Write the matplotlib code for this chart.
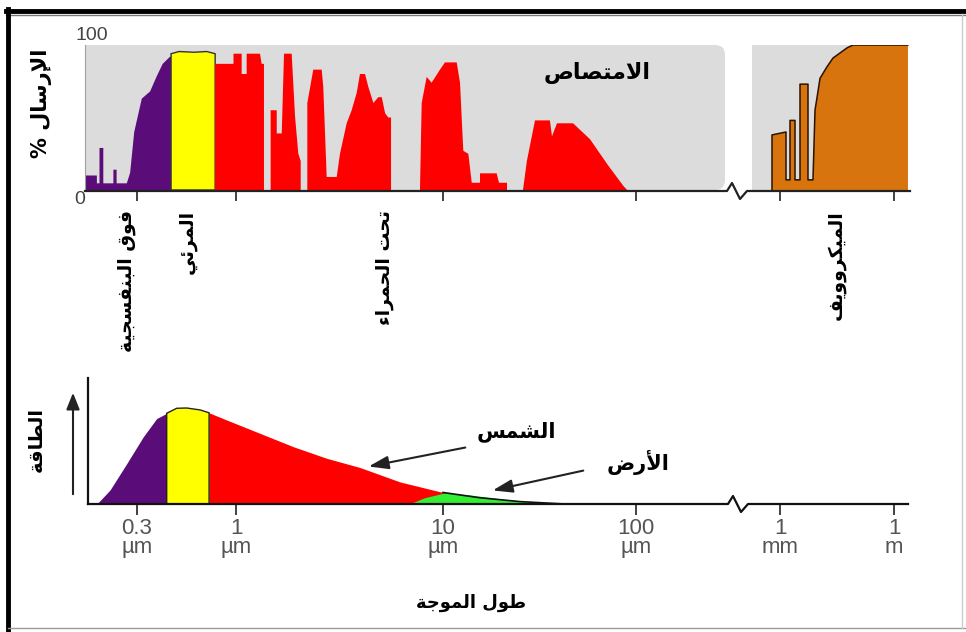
import numpy as np
import matplotlib
matplotlib.use('Agg')
import matplotlib.pyplot as plt
from matplotlib.patches import Rectangle, FancyBboxPatch
from matplotlib.lines import Line2D

# ---------------- data ----------------
# top panel: atmospheric transmission (%) vs wavelength (micrometres)
uv_wl = [0.159, 0.159, 0.184, 0.184, 0.190, 0.190, 0.199, 0.199, 0.225, 0.225, 0.234, 0.234,
         0.265, 0.276, 0.29, 0.318, 0.352, 0.38, 0.41, 0.449, 0.454, 0.454]
uv_T = [0, 10, 10, 4.6, 4.6, 29, 29, 4.6, 4.6, 14, 14, 4.6,
        4.6, 12, 40, 63, 68, 78, 87, 92, 92, 0]

vis_wl = [0.454, 0.454, 0.5, 0.6, 0.7, 0.776, 0.776]
vis_T = [0, 94, 95.5, 95, 95.5, 94, 0]

ir_wl = [0.776, 0.776, 0.97, 0.97, 1.065, 1.065, 1.126, 1.126, 1.306, 1.33, 1.365, 1.365,
         1.47, 1.47, 1.573, 1.573, 1.663, 1.706, 1.858, 1.928, 2.0, 2.054, 2.054,
         2.211, 2.211, 2.362, 2.594, 2.64, 2.742, 3.066, 3.179, 3.425, 3.62, 3.83, 3.97, 4.2,
         4.36, 4.61, 4.87, 5.06, 5.25, 5.44, 5.61, 5.61,
         7.74, 7.89, 8.34, 8.81, 9.67, 10.24, 11.78, 12.25, 12.74, 13.53, 14.09, 15.55, 15.55,
         18.97, 19.5, 21.46, 21.46,
         25.97, 27.2, 29.97, 35.8, 36.7, 38.96, 47.2, 57.8, 70.8, 85.8, 90.0]
ir_T = [0, 87, 87, 94, 94, 80, 80, 94, 94, 87, 87, 0,
        0, 55, 55, 39, 39, 94, 94, 51, 25, 20, 0,
        0, 60, 83, 83, 71, 9, 9, 25, 46, 55, 67, 80, 80,
        71, 60, 64, 64, 53, 50, 50, 0,
        0, 60, 78, 74, 83, 88, 88, 74, 27, 25, 5, 5, 11.5,
        11.5, 5, 5, 0,
        0, 20, 48, 48, 37, 46, 46, 35, 18, 3, 0]

mw_wl = [880, 880, 1439, 1439, 1833, 1833, 2483, 2483, 3360, 3360, 5455, 5455, 7380,
         8340, 10000, 11290, 17260, 24820, 57940, 83350, 2.33e6, 2.33e6]
mw_T = [0, 38, 40, 7, 7, 48, 48, 7, 7, 73, 73, 7, 7,
        55, 68, 77, 85, 91, 98, 100, 100, 0]

# bottom panel: relative emitted energy vs wavelength (micrometres)
sun_wl = np.array([0.184, 0.216, 0.2646, 0.3237, 0.381, 0.4305, 0.486, 0.5486, 0.646, 0.721,
                   0.893, 1.306, 1.891, 2.742, 3.972, 6.196, 10.0, 15.55, 25.06, 42.84])
sun_E = np.array([0, 14.6, 42, 70, 89, 94.5, 99.7, 100, 98, 95,
                  87.5, 73.6, 59.7, 47.6, 38, 23, 12, 6.5, 2.5, 0])
earth_wl = [7.0, 8.19, 10.24, 13.8, 19.7, 29.6, 33.7]
earth_E = [0, 6, 11, 9, 5, 1, 0]

tick_wl = [0.3, 1, 10, 100, 1000, 1e6]
tick_labels = ['0.3\nµm', '1\nµm', '10\nµm', '100\nµm', '1\nmm', '1\nm']

band_uv_end = 0.4305
band_vis_end = 0.721

# ---------------- Arabic shaping (presentation forms, visual order) ----------------
_DUAL = {'ئ': 0xFE89, 'ب': 0xFE8F, 'ت': 0xFE95, 'ث': 0xFE99, 'ج': 0xFE9D, 'ح': 0xFEA1,
         'خ': 0xFEA5, 'س': 0xFEB1, 'ش': 0xFEB5, 'ص': 0xFEB9, 'ض': 0xFEBD, 'ط': 0xFEC1,
         'ظ': 0xFEC5, 'ع': 0xFEC9, 'غ': 0xFECD, 'ف': 0xFED1, 'ق': 0xFED5, 'ك': 0xFED9,
         'ل': 0xFEDD, 'م': 0xFEE1, 'ن': 0xFEE5, 'ه': 0xFEE9, 'ي': 0xFEF1}
_RIGHT = {'آ': 0xFE81, 'أ': 0xFE83, 'ؤ': 0xFE85, 'إ': 0xFE87, 'ا': 0xFE8D, 'ة': 0xFE93,
          'د': 0xFEA9, 'ذ': 0xFEAB, 'ر': 0xFEAD, 'ز': 0xFEAF, 'و': 0xFEED, 'ى': 0xFEEF}
_NONE = {'ء': 0xFE80}
_LAM_ALEF = {'آ': 0xFEF5, 'أ': 0xFEF7, 'إ': 0xFEF9, 'ا': 0xFEFB}


def ar(text):
    toks = []
    i = 0
    while i < len(text):
        c = text[i]
        if c == 'ل' and i + 1 < len(text) and text[i + 1] in _LAM_ALEF:
            toks.append(('LA', text[i + 1]))
            i += 2
        else:
            toks.append(('C', c))
            i += 1

    def jl(t):
        return t[0] == 'C' and t[1] in _DUAL

    def jr(t):
        return t[0] == 'LA' or t[1] in _DUAL or t[1] in _RIGHT

    out = []
    for k, t in enumerate(toks):
        p = k > 0 and jl(toks[k - 1]) and jr(t)
        n = k + 1 < len(toks) and jl(t) and jr(toks[k + 1])
        kind, c = t
        if kind == 'LA':
            out.append(chr(_LAM_ALEF[c] + (1 if p else 0)))
        elif c in _DUAL:
            b = _DUAL[c]
            out.append(chr(b + 3 if (p and n) else b + 2 if n else b + 1 if p else b))
        elif c in _RIGHT:
            out.append(chr(_RIGHT[c] + (1 if p else 0)))
        elif c in _NONE:
            out.append(chr(_NONE[c]))
        else:
            out.append(c)
    return ''.join(reversed(out))


# ---------------- scale ----------------
W, H = 966, 632
KL = np.array([-1.2, np.log10(0.3), 0, 1, 2, 3, 6, 7])
KP = np.array([9, 137, 236, 443, 636, 780, 894, 932], dtype=float)


def fwd(v):
    v = np.asarray(v, dtype=float)
    lv = np.log10(np.where(v > 0, v, 1e-12))
    return np.interp(lv, KL, KP)


def inv(p):
    return 10 ** np.interp(np.asarray(p, dtype=float), KP, KL)


def fx(x):
    return x / W


def fy(y):
    return 1 - y / H


def inch(x, y):
    return (x / 100.0, (H - y) / 100.0)


AR = ['DejaVu Sans']
NUM = ['Liberation Sans', 'DejaVu Sans']
PURPLE = '#5a0c78'
YELLOW = '#ffff00'
RED = '#ff0000'
ORANGE = '#d8740e'
GREEN = '#33ee33'
GRAY = '#dcdcdc'

fig = plt.figure(figsize=(W / 100, H / 100), dpi=100)
fig.patch.set_facecolor('white')

# ---------------- background absorption panels ----------------
fig.add_artist(Rectangle(inch(85, 190), 630 / 100, 145 / 100, transform=fig.dpi_scale_trans,
                         fc=GRAY, ec='none', zorder=-2))
fig.add_artist(FancyBboxPatch(inch(690, 190), 35 / 100, 145 / 100,
                              boxstyle='round,pad=0,rounding_size=0.1',
                              transform=fig.dpi_scale_trans, fc=GRAY, ec='none', zorder=-2))
fig.add_artist(Rectangle(inch(752, 190), 156 / 100, 145 / 100, transform=fig.dpi_scale_trans,
                         fc=GRAY, ec='none', zorder=-2))

# ---------------- top panel ----------------
ax1 = fig.add_axes([fx(85), fy(190), fx(910) - fx(85), fy(45) - fy(190)])
ax1.set_facecolor('none')
ax1.set_xscale('function', functions=(fwd, inv))
ax1.fill(uv_wl, uv_T, color=PURPLE, lw=0)
ax1.fill(vis_wl, vis_T, fc=YELLOW, ec='#333333', lw=1.0)
ax1.fill(ir_wl, ir_T, color=RED, lw=0)
ax1.fill(mw_wl, mw_T, color=ORANGE, lw=0)
ax1.plot(mw_wl[:-1], mw_T[:-1], color='#2a1200', lw=1.1)
ax1.set_xlim(inv(85), inv(910))
ax1.set_ylim(0, 100)
ax1.set_xticks(tick_wl)
ax1.set_xticklabels([])
ax1.xaxis.set_minor_locator(matplotlib.ticker.NullLocator())
ax1.tick_params(axis='x', direction='out', length=8, width=1.3, color='#333333')
ax1.set_yticks([])
for s in ['top', 'right', 'bottom']:
    ax1.spines[s].set_visible(False)
ax1.spines['left'].set_color('#a0a0a0')
ax1.spines['left'].set_linewidth(0.8)

# ---------------- bottom panel ----------------
ax2 = fig.add_axes([fx(88), fy(504), fx(910) - fx(88), fy(378) - fy(504)])
ax2.set_facecolor('none')
ax2.set_xscale('function', functions=(fwd, inv))
m_uv = sun_wl <= band_uv_end
m_vis = (sun_wl >= band_uv_end) & (sun_wl <= band_vis_end)
m_ir = sun_wl >= band_vis_end
ax2.fill_between(sun_wl[m_uv], 0, sun_E[m_uv], color=PURPLE, lw=0)
ax2.fill_between(sun_wl[m_ir], 0, sun_E[m_ir], color=RED, lw=0)
vx = np.concatenate([[sun_wl[m_vis][0]], sun_wl[m_vis], [sun_wl[m_vis][-1]]])
vy = np.concatenate([[0], sun_E[m_vis], [0]])
ax2.fill(vx, vy, fc=YELLOW, ec='#222222', lw=1.0)
ax2.fill(earth_wl, earth_E, fc=GREEN, ec='none')
tail = sun_wl >= 10
ax2.plot(sun_wl[tail], sun_E[tail], color='#111111', lw=1.2)
ax2.set_xlim(inv(88), inv(910))
ax2.set_ylim(0, 131.25)
ax2.set_xticks(tick_wl)
ax2.set_xticklabels(tick_labels, family=NUM, fontsize=16, color='#555555', linespacing=0.9)
ax2.xaxis.set_minor_locator(matplotlib.ticker.NullLocator())
ax2.tick_params(axis='x', direction='out', length=8, width=1.3, color='#333333', pad=2)
ax2.set_yticks([])
for s in ['top', 'right', 'bottom']:
    ax2.spines[s].set_visible(False)
ax2.spines['left'].set_color('#111111')
ax2.spines['left'].set_linewidth(1.6)

# ---------------- baselines with axis breaks ----------------
def brk(y0, xa, dy):
    xs = [xa, xa + 5, xa + 13, xa + 20]
    ys = [y0, y0 - dy, y0 + dy, y0]
    return xs, ys


for (x0, x1, y0, xa, col) in [(85, 910, 191, 727, '#222222'), (88, 908, 504, 728, '#111111')]:
    bx, by = brk(y0, xa, 8)
    xs = [x0] + bx + [x1]
    ys = [y0] + by + [y0]
    pts = [inch(a, b) for a, b in zip(xs, ys)]
    fig.add_artist(Line2D([p[0] for p in pts], [p[1] for p in pts], transform=fig.dpi_scale_trans,
                          color=col, lw=1.6, zorder=5))

# ---------------- texts ----------------
fig.text(fx(92), fy(36), '100', family=NUM, fontsize=14, color='#444444', ha='center', va='center')
fig.text(fx(80), fy(200), '0', family=NUM, fontsize=14, color='#444444', ha='center', va='center')
fig.text(fx(42), fy(103), ar('الإرسال %'), family=AR, fontsize=15, fontweight='bold',
         rotation=90, ha='center', va='center')
fig.text(fx(597), fy(73), ar('الامتصاص'), family=AR, fontsize=16, fontweight='bold',
         ha='center', va='center')

for lab, x in [('فوق البنفسجية', 126), ('المرئي', 187), ('تحت الحمراء', 384), ('الميكروويف', 836)]:
    fig.text(fx(x), fy(210), ar(lab), family=AR, fontsize=13.5, fontweight='bold',
             rotation=90, ha='center', va='top')

fig.text(fx(36), fy(440), ar('الطاقة'), family=AR, fontsize=14, fontweight='bold',
         rotation=90, ha='center', va='center')
fig.add_artist(matplotlib.patches.FancyArrowPatch(inch(73, 497), inch(73, 390),
                                                  transform=fig.dpi_scale_trans,
                                                  arrowstyle='-|>,head_length=0.5,head_width=0.2',
                                                  mutation_scale=20, color='#222222', lw=1.5))

fig.text(fx(516), fy(432), ar('الشمس'), family=AR, fontsize=15, fontweight='bold',
         ha='center', va='center')
fig.add_artist(matplotlib.patches.FancyArrowPatch(inch(468, 447), inch(366, 467),
                                                  transform=fig.dpi_scale_trans,
                                                  arrowstyle='-|>,head_length=0.6,head_width=0.2',
                                                  mutation_scale=20, color='#222222', lw=1.5))
fig.text(fx(638), fy(462), ar('الأرض'), family=AR, fontsize=15, fontweight='bold',
         ha='center', va='center')
fig.add_artist(matplotlib.patches.FancyArrowPatch(inch(586, 470), inch(490, 491),
                                                  transform=fig.dpi_scale_trans,
                                                  arrowstyle='-|>,head_length=0.6,head_width=0.2',
                                                  mutation_scale=20, color='#222222', lw=1.5))

fig.text(fx(471), fy(603), ar('طول الموجة'), family=AR, fontsize=13, fontweight='bold',
         ha='center', va='center')

# ---------------- frame ----------------
for (xs, ys, c, lw) in [([6, 966], [10.5, 10.5], 'black', 3.5),
                        ([6, 966], [14.5, 14.5], '#777777', 1.0),
                        ([8, 8], [9, 632], 'black', 3.5),
                        ([8, 966], [628, 628], '#999999', 1.0),
                        ([962, 962], [14, 628], '#cccccc', 1.0)]:
    pts = [inch(a, b) for a, b in zip(xs, ys)]
    fig.add_artist(Line2D([p[0] for p in pts], [p[1] for p in pts], transform=fig.dpi_scale_trans,
                          color=c, lw=lw, zorder=6))

fig.savefig('out.png', dpi=100, facecolor='white')
